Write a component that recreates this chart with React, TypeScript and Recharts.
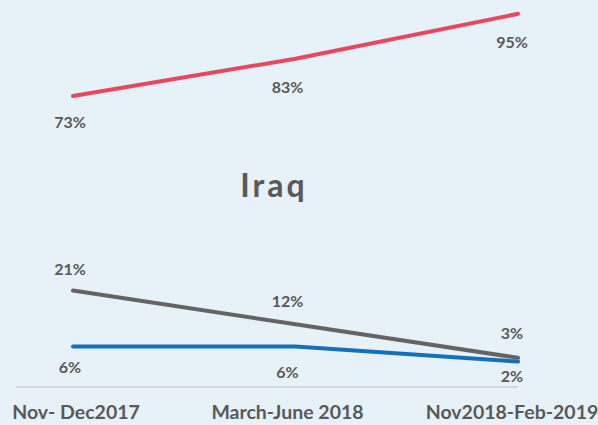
import React from 'react';
import { LineChart, Line, XAxis, YAxis, LabelList } from 'recharts';

const categories = ['Nov- Dec2017', 'March-June 2018', 'Nov2018-Feb-2019'];
const redValues = [73, 83, 95];
const grayValues = [21, 12, 3];
const blueValues = [6, 6, 2];

const data = categories.map((c, i) => ({
  name: c,
  red: redValues[i],
  gray: grayValues[i],
  blue: blueValues[i],
}));

const TEXT = '#595959';
const FONT = 'Lato, "Open Sans", sans-serif';

const tickDx = [3, -8, -6];
const labelDx = [-3, -8, -6];

const Tick = (props: any) => {
  const { x, y, payload, index } = props;
  return (
    <text
      x={x + tickDx[index]}
      y={y + 24}
      textAnchor="middle"
      fill={TEXT}
      fontFamily={FONT}
      fontWeight={700}
      fontSize={19.5}
    >
      {payload.value}
    </text>
  );
};

const makeLabel = (dys: number[]) => (props: any) => {
  const { x, y, value, index } = props;
  return (
    <text
      x={x + labelDx[index]}
      y={y + dys[index] + 6}
      textAnchor="middle"
      fill={TEXT}
      fontFamily={FONT}
      fontWeight={700}
      fontSize={16}
    >
      {value}%
    </text>
  );
};

export default function App() {
  return (
    <div style={{ position: 'absolute', left: 0, top: 0, width: 598, height: 425, background: '#e6f1f8' }}>
      <LineChart width={598} height={425} data={data} margin={{ top: 0, right: 80, bottom: 0, left: 16 }}>
        <XAxis
          dataKey="name"
          height={38}
          tickLine={false}
          axisLine={{ stroke: '#d6d6d6', strokeWidth: 2 }}
          padding={{ left: 57, right: 0 }}
          tick={<Tick />}
          interval={0}
        />
        <YAxis hide domain={[-4.8, 98.7]} />
        <Line dataKey="red" stroke="#e8485f" strokeWidth={4} dot={false} isAnimationActive={false} strokeLinecap="round">
          <LabelList dataKey="red" content={makeLabel([26, 28, 28])} />
        </Line>
        <Line dataKey="gray" stroke="#646464" strokeWidth={4} dot={false} isAnimationActive={false} strokeLinecap="round">
          <LabelList dataKey="gray" content={makeLabel([-22, -23, -25])} />
        </Line>
        <Line dataKey="blue" stroke="#1470ba" strokeWidth={4} dot={false} isAnimationActive={false} strokeLinecap="round">
          <LabelList dataKey="blue" content={makeLabel([20, 25, 14])} />
        </Line>
      </LineChart>
      <svg width={598} height={425} style={{ position: 'absolute', left: 0, top: 0, pointerEvents: 'none' }}>
        <text x={274} y={197} textAnchor="middle" fill={TEXT} fontFamily={FONT} fontWeight={700} fontSize={32} letterSpacing={3}>
          Iraq
        </text>
      </svg>
    </div>
  );
}
